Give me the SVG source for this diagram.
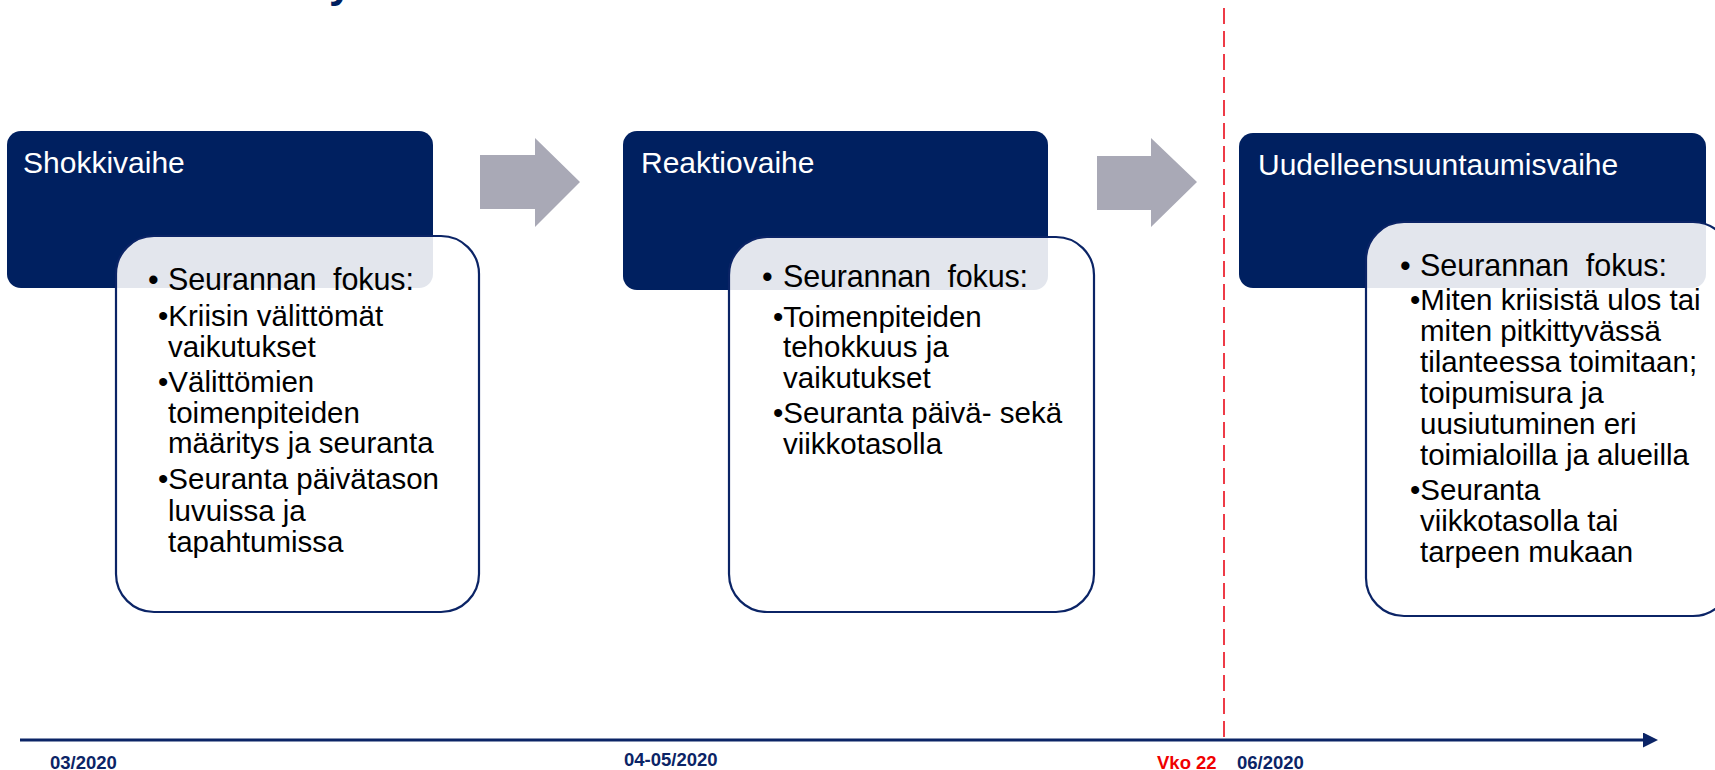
<svg xmlns="http://www.w3.org/2000/svg" width="1715" height="770" viewBox="0 0 1715 770">
<defs>
<style>
.phase{fill:#002060}
.focus{fill:#ffffff;fill-opacity:0.89;stroke:#0b2466;stroke-width:2.2}
.title{font-family:"Liberation Sans",Arial,sans-serif;font-size:30px;fill:#ffffff}
.head{font-family:"Liberation Sans",Arial,sans-serif;font-size:30.5px;fill:#000000;white-space:pre}
.body{font-family:"Liberation Sans",Arial,sans-serif;font-size:29.5px;fill:#000000}
.blk{fill:#a9a9b6}
.axis{stroke:#0b2466;stroke-width:3;fill:none}
.date{font-family:"Liberation Sans",Arial,sans-serif;font-size:18.5px;font-weight:bold;fill:#0b2466}
.wk{font-family:"Liberation Sans",Arial,sans-serif;font-size:18.5px;font-weight:bold;fill:#f00000}
</style>
<marker id="axhead" markerUnits="userSpaceOnUse" markerWidth="16" markerHeight="16" refX="2" refY="7.5" orient="auto">
<path d="M0,0 L15,7.5 L0,15 Z" fill="#0b2466"/>
</marker>
</defs>
<rect width="1715" height="770" fill="#ffffff"/>

<text x="329" y="-3" font-family="Liberation Sans, Arial, sans-serif" font-size="42" font-weight="bold" fill="#002060">y</text>

<g id="connectors">
<path class="blk" d="M480,155 H535 V138 L580,182 L535,227 V209 H480 Z"/>
<path class="blk" d="M1097,156 H1151 V138 L1197,182 L1151,227 V210 H1097 Z"/>
</g>

<g id="vko22-marker">
<line x1="1224" y1="8" x2="1224" y2="740" stroke="#ee3b47" stroke-width="2" stroke-dasharray="16 7"/>
</g>

<g id="timeline">
<line class="axis" x1="20" y1="740" x2="1645" y2="740" marker-end="url(#axhead)"/>
<text class="date" x="50" y="769">03/2020</text>
<text class="date" x="624" y="766">04-05/2020</text>
<text class="wk" x="1157" y="769">Vko 22</text>
<text class="date" x="1237" y="769">06/2020</text>
</g>

<g id="shokkivaihe">
<rect class="phase" x="7" y="131" width="426" height="157" rx="14"/>
<text class="title" x="23" y="173">Shokkivaihe</text>
<rect class="focus" x="116" y="236" width="363" height="376" rx="38"/>
<text class="head" x="148" y="290">•</text>
<text class="head" x="168" y="290" textLength="246" lengthAdjust="spacing">Seurannan  fokus:</text>
<text class="body" x="158" y="326">•Kriisin välittömät</text>
<text class="body" x="168" y="357">vaikutukset</text>
<text class="body" x="158" y="392">•Välittömien</text>
<text class="body" x="168" y="423">toimenpiteiden</text>
<text class="body" x="168" y="453">määritys ja seuranta</text>
<text class="body" x="158" y="489">•Seuranta päivätason</text>
<text class="body" x="168" y="521">luvuissa ja</text>
<text class="body" x="168" y="552">tapahtumissa</text>
</g>

<g id="reaktiovaihe">
<rect class="phase" x="623" y="131" width="425" height="159" rx="14"/>
<text class="title" x="641" y="173">Reaktiovaihe</text>
<rect class="focus" x="729" y="237" width="365" height="375" rx="38"/>
<text class="head" x="762" y="287">•</text>
<text class="head" x="783" y="287" textLength="245" lengthAdjust="spacing">Seurannan  fokus:</text>
<text class="body" x="773" y="327">•Toimenpiteiden</text>
<text class="body" x="783" y="357">tehokkuus ja</text>
<text class="body" x="783" y="388">vaikutukset</text>
<text class="body" x="773" y="423">•Seuranta päivä- sekä</text>
<text class="body" x="783" y="454">viikkotasolla</text>
</g>

<g id="uudelleensuuntaumisvaihe">
<rect class="phase" x="1239" y="133" width="467" height="155" rx="14"/>
<text class="title" x="1258" y="175">Uudelleensuuntaumisvaihe</text>
<rect class="focus" x="1366" y="222" width="365" height="394" rx="38"/>
<text class="head" x="1400" y="276">•</text>
<text class="head" x="1420" y="276" textLength="247" lengthAdjust="spacing">Seurannan  fokus:</text>
<text class="body" x="1410" y="310">•Miten kriisistä ulos tai</text>
<text class="body" x="1420" y="341">miten pitkittyvässä</text>
<text class="body" x="1420" y="372">tilanteessa toimitaan;</text>
<text class="body" x="1420" y="403">toipumisura ja</text>
<text class="body" x="1420" y="434">uusiutuminen eri</text>
<text class="body" x="1420" y="465">toimialoilla ja alueilla</text>
<text class="body" x="1410" y="500">•Seuranta</text>
<text class="body" x="1420" y="531">viikkotasolla tai</text>
<text class="body" x="1420" y="562">tarpeen mukaan</text>
</g>
</svg>
